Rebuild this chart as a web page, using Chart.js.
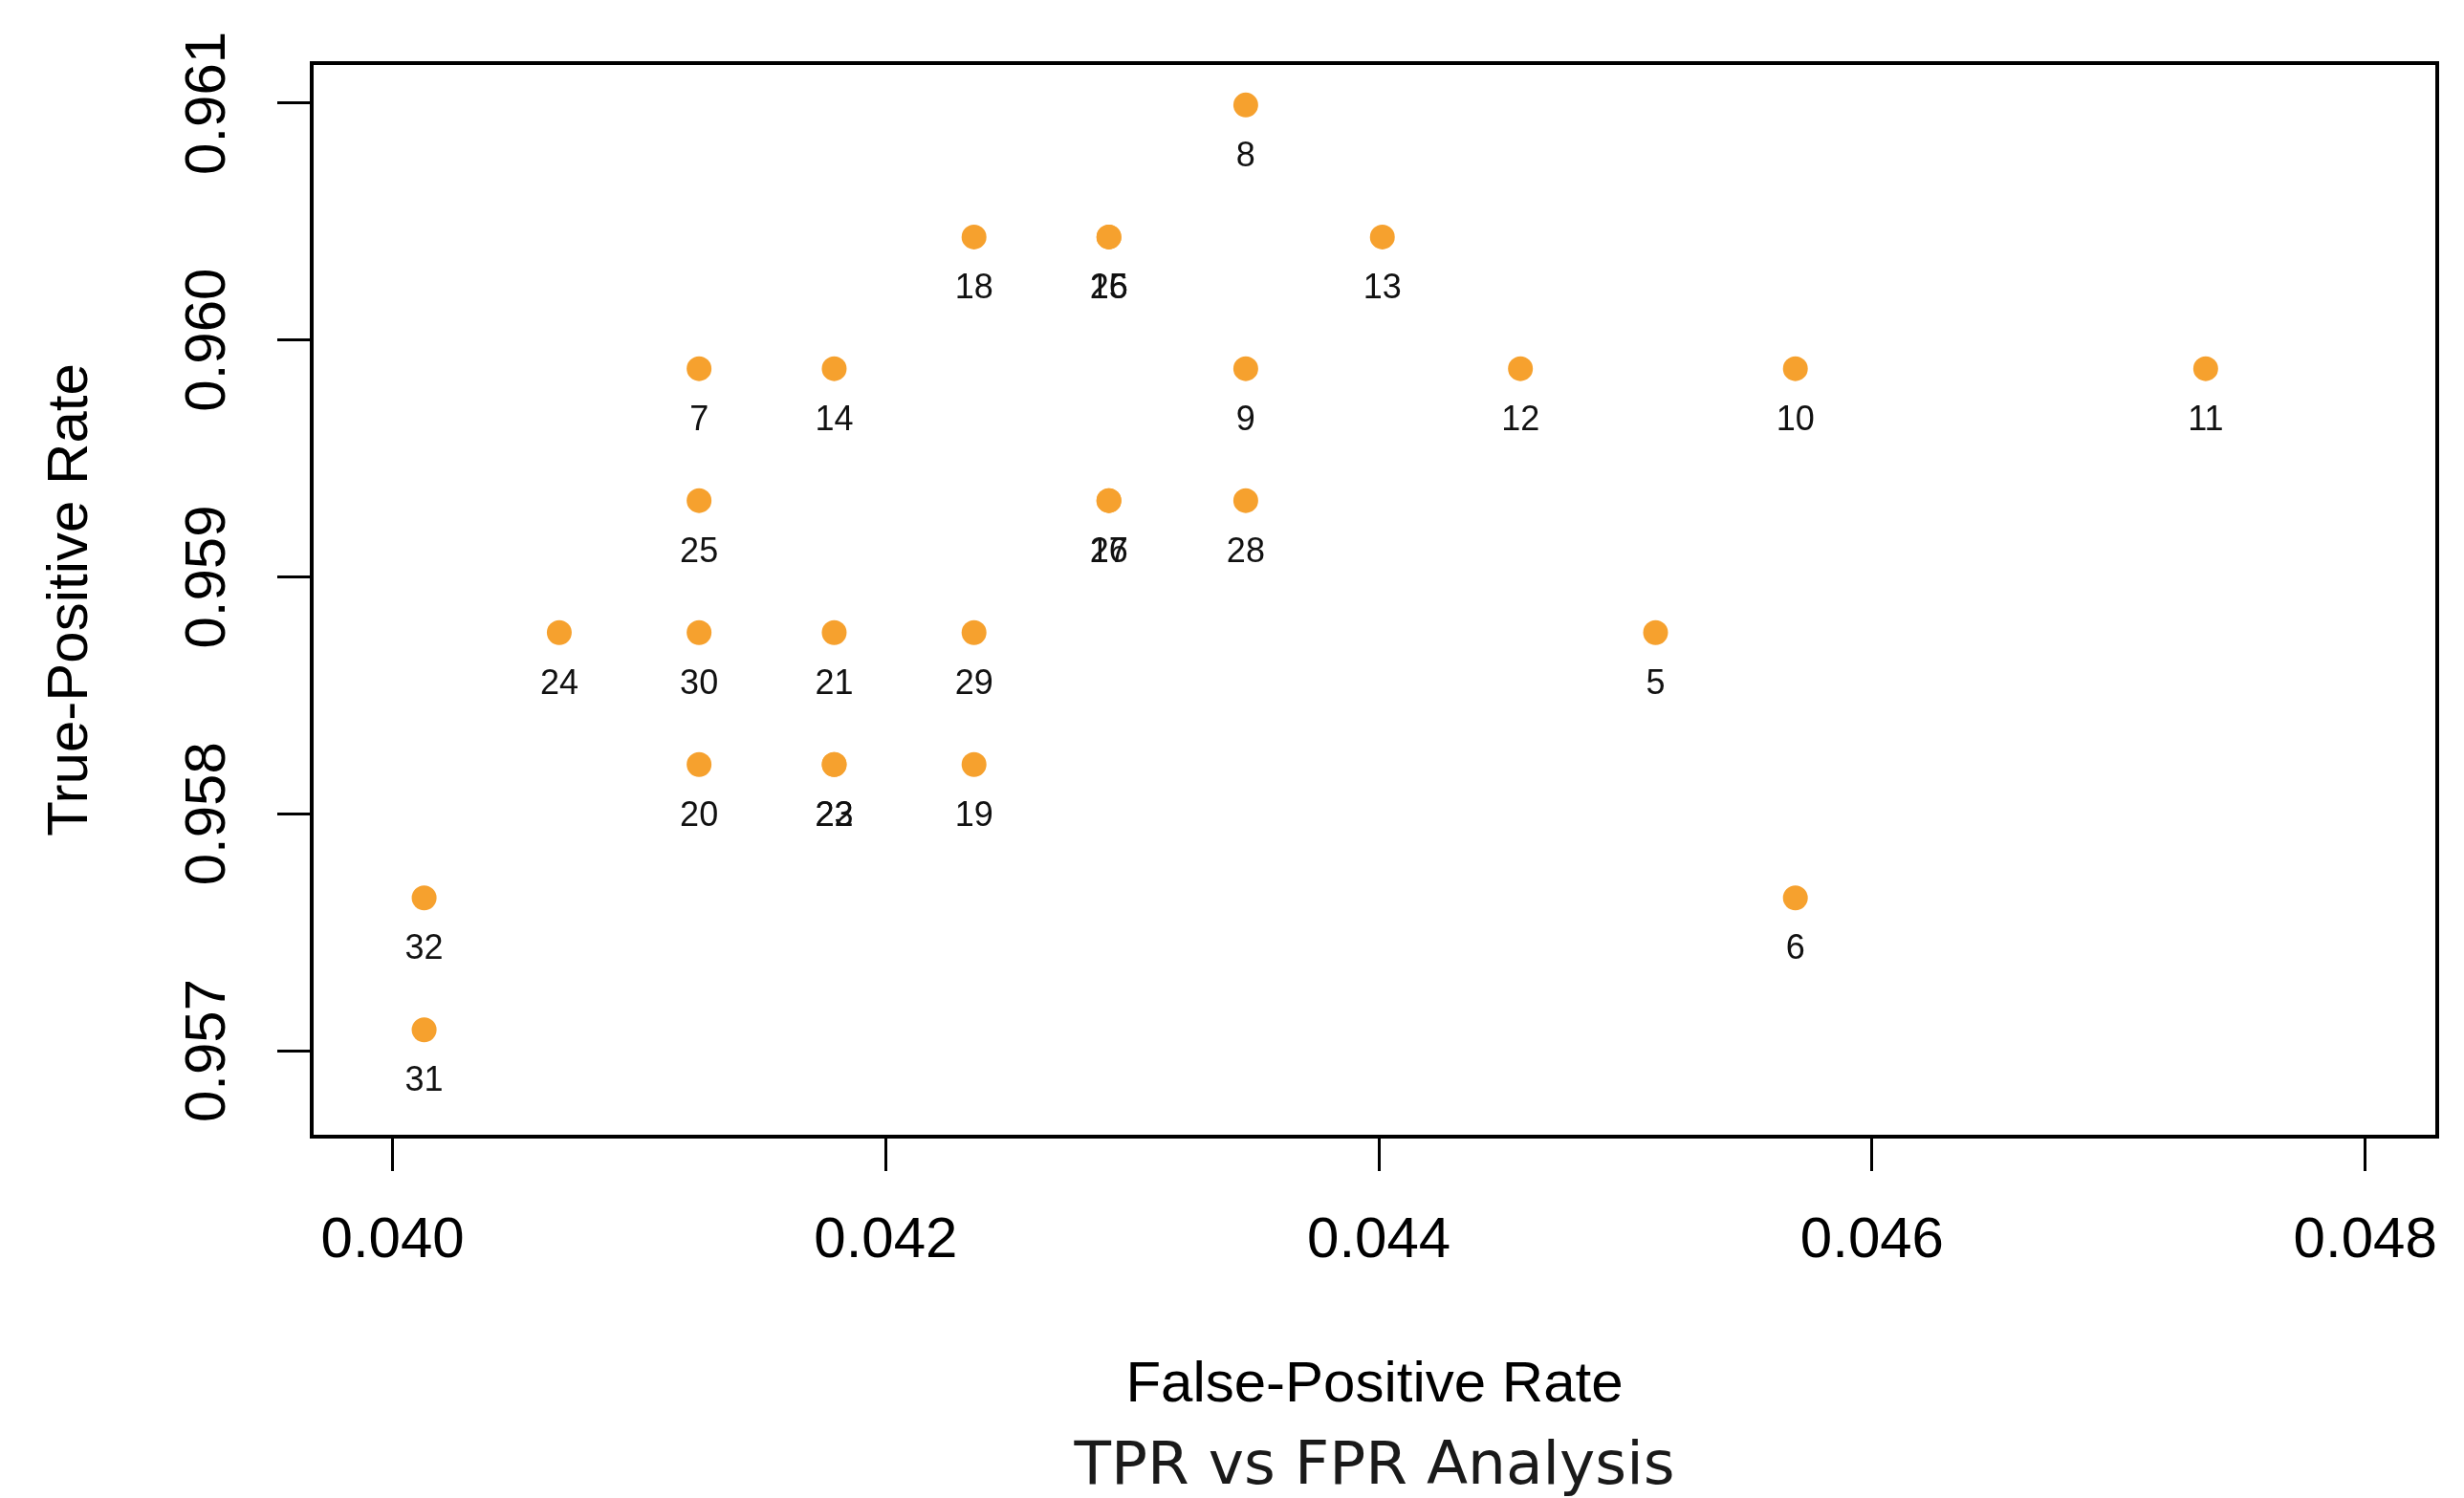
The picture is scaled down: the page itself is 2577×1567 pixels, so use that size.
<!DOCTYPE html>
<html>
<head>
<meta charset="utf-8">
<title>TPR vs FPR Analysis</title>
<script src="https://cdn.jsdelivr.net/npm/chart.js@4.4.1/dist/chart.umd.min.js"></script>
<style>
  html, body { margin: 0; padding: 0; background: #fff; }
  canvas { display: block; }
</style>
</head>
<body>
<canvas id="chart" width="2577" height="1567"></canvas>
<script>
// point ids, as printed under each marker (some share one position)
const pointIds = ['5', '6', '7', '8', '9', '10', '11', '12', '13', '14', '15', '26', '16', '27', '18',
  '19', '20', '21', '22', '23', '24', '25', '28', '29', '30', '31', '32'];
// false-positive rate (x)
const fprValues = [0.045122, 0.045689, 0.041243, 0.043460, 0.043460, 0.045689, 0.047353, 0.044574, 0.044014, 0.041791,
  0.042905, 0.042905, 0.042905, 0.042905, 0.042358,
  0.042358, 0.041243, 0.041791, 0.041791, 0.041791, 0.040676, 0.041243, 0.043460, 0.042358, 0.041243, 0.040128, 0.040128];
// true-positive rate (y)
const tprValues = [0.958765, 0.957645, 0.959879, 0.960992, 0.959879, 0.959879, 0.959879, 0.959879, 0.960435, 0.959879,
  0.960435, 0.960435, 0.959322, 0.959322, 0.960435,
  0.958208, 0.958208, 0.958765, 0.958208, 0.958208, 0.958765, 0.959322, 0.959322, 0.958765, 0.958765, 0.957088, 0.957645];

const xTicks = [0.040, 0.042, 0.044, 0.046, 0.048];
const yTicks = [0.957, 0.958, 0.959, 0.960, 0.961];

const dotColor = '#F6A12E';
const tickFont = { family: 'Liberation Sans', size: 60 };

// width of a y tick label, so the rotated text can be centred at x=218
const mctx = document.createElement('canvas').getContext('2d');
mctx.font = '60px "Liberation Sans"';
const yLabelW = mctx.measureText('0.961').width;
const yTickPad = 326 - 36 - yLabelW / 2 - 218;

const points = fprValues.map((x, i) => ({ x: x, y: tprValues[i] }));

// R-style box round the plotting region
const framePlugin = {
  id: 'frame',
  afterDatasetsDraw(chart) {
    const { ctx, chartArea: a } = chart;
    ctx.save();
    ctx.strokeStyle = '#000';
    ctx.lineWidth = 4;
    ctx.strokeRect(a.left, a.top, a.right - a.left, a.bottom - a.top);
    ctx.restore();
  }
};

// id text under each marker
const idLabels = {
  id: 'idLabels',
  afterDatasetsDraw(chart) {
    const ctx = chart.ctx;
    const meta = chart.getDatasetMeta(0);
    ctx.save();
    ctx.font = '36px "Liberation Sans"';
    ctx.fillStyle = '#111';
    ctx.textAlign = 'center';
    ctx.textBaseline = 'middle';
    meta.data.forEach((el, i) => {
      ctx.fillText(pointIds[i], el.x, el.y + 54);
    });
    ctx.restore();
  }
};

new Chart(document.getElementById('chart'), {
  type: 'scatter',
  data: {
    datasets: [{
      data: points,
      backgroundColor: dotColor,
      borderWidth: 0,
      pointRadius: 13,
      pointHoverRadius: 13
    }]
  },
  options: {
    responsive: false,
    animation: false,
    layout: { padding: { top: 66, right: 28, bottom: 0, left: 0 } },
    plugins: {
      legend: { display: false },
      tooltip: { enabled: false },
      title: {
        display: true,
        position: 'bottom',
        fullSize: false, // centre under the plot box, not the canvas
        text: 'TPR vs FPR Analysis',
        color: '#1a1a1a',
        font: { family: 'DejaVu Sans', size: 63, weight: 'normal', lineHeight: 1.0 },
        padding: { top: 0, bottom: 0 }
      }
    },
    scales: {
      x: {
        type: 'linear',
        min: 0.039672,
        max: 0.048292,
        afterBuildTicks: (s) => { s.ticks = xTicks.map(v => ({ value: v })); },
        afterFit: (s) => {
          s.height = 315;
          s.paddingLeft = 0;
          s.paddingRight = 0;
        },
        ticks: {
          color: '#000',
          font: tickFont,
          padding: 37,
          maxRotation: 0,
          callback: (v) => v.toFixed(3)
        },
        grid: {
          drawOnChartArea: false,
          drawTicks: true,
          tickLength: 36,
          tickColor: '#000',
          tickWidth: 3
        },
        border: { display: false },
        title: {
          display: true,
          text: 'False-Positive Rate',
          color: '#000',
          font: { family: 'Liberation Sans', size: 60 },
          padding: { top: 0, bottom: 19 }
        }
      },
      y: {
        type: 'linear',
        min: 0.956637,
        max: 0.961169,
        afterBuildTicks: (s) => { s.ticks = yTicks.map(v => ({ value: v })); },
        afterFit: (s) => {
          s.width = 326;
          s.paddingTop = 0;
          s.paddingBottom = 0;
        },
        ticks: {
          color: '#000',
          font: tickFont,
          padding: yTickPad,
          minRotation: 90,
          maxRotation: 90,
          crossAlign: 'center',
          callback: (v) => v.toFixed(3)
        },
        grid: {
          drawOnChartArea: false,
          drawTicks: true,
          tickLength: 36,
          tickColor: '#000',
          tickWidth: 3
        },
        border: { display: false },
        title: {
          display: true,
          text: 'True-Positive Rate',
          color: '#000',
          font: { family: 'Liberation Sans', size: 60 },
          padding: { top: 38, bottom: 0 }
        }
      }
    }
  },
  plugins: [framePlugin, idLabels]
});
</script>
</body>
</html>
